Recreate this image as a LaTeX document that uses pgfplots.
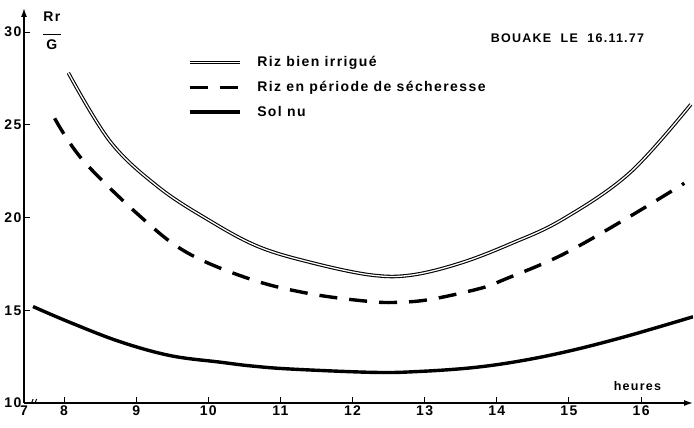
\documentclass[border=0pt]{standalone}
\usepackage{fontspec}
\usepackage{pgfplots}
\pgfplotsset{compat=1.18}
\usetikzlibrary{arrows.meta}
\setmainfont{Liberation Sans}
\newfontfamily\lbl{Liberation Sans}[LetterSpace=10]
\newcommand\lb{\lbl\bfseries\fontsize{14}{16}\selectfont}
\newcommand\lbt{\lbl\bfseries\fontsize{12.5}{14}\selectfont}

\begin{document}
\begin{tikzpicture}
\useasboundingbox (0,0) rectangle (694pt,428pt);
\begin{axis}[
  at={(24pt,25pt)}, anchor=south west,
  scale only axis, width=669pt, height=395pt,
  xmin=7.445, xmax=16.72, ymin=10, ymax=31.3,
  axis x line=bottom, axis y line=left,
  axis line style={line width=1.4pt},
  x axis line style={-{Latex[length=9pt,width=6pt]}},
  y axis line style={-{Latex[length=9pt,width=6pt]}},
  xtick={7.445,8,9,10,11,12,13,14,15,16},
  xticklabels={7,8,9,10,11,12,13,14,15,16},
  ytick={10,15,20,25,30},
  tick align=inside, major tick length=6pt,
  tick style={line width=1pt, black},
  ticklabel style={font=\lb},
  /pgf/number format/assume math mode=true,
  xticklabel style={yshift=1pt},
  yticklabel style={xshift=1pt},
  legend style={at={(0.24,0.885)}, anchor=north west, draw=none, fill=none,
    font=\lb, row sep=11pt, nodes={inner sep=1pt},
    /tikz/every odd column/.append style={column sep=15pt}},
  legend cell align=left,
  legend image code/.code={\draw[#1] (0pt,0pt) -- (50pt,0pt);},
]

% Riz bien irrigue
\addplot[black, line width=1.1pt, double=white, double distance=1.3pt, smooth, tension=0.6] coordinates {
  (8.06,27.8) (8.64,24.1) (9.30,21.67) (9.99,19.9) (10.69,18.44)
  (11.45,17.55) (12.26,16.9) (12.82,16.9) (13.5,17.55) (14.2,18.6)
  (14.91,19.9) (15.84,22.4) (16.69,26.1)
};
\addlegendentry{Riz bien irrigué}

% Riz en periode de secheresse
\addplot[black, line width=3.4pt, dash pattern=on 18pt off 12pt, smooth, tension=0.6] coordinates {
  (7.87,25.35) (8.26,23.1) (9.06,20.05) (9.71,18.1) (10.59,16.67)
  (11.4,15.9) (12.22,15.48) (12.64,15.43) (13.1,15.6) (13.79,16.2)
  (14.11,16.67) (14.91,18.0) (15.84,20.05) (16.6,21.85)
};
\addlegendentry{Riz en période de sécheresse}

% Sol nu
\addplot[black, line width=3.4pt, smooth, tension=0.6] coordinates {
  (7.57,15.2) (8.08,14.35) (8.78,13.3) (9.48,12.55) (10.17,12.2)
  (10.59,12.0) (11.15,11.83) (12.3,11.65) (12.92,11.7) (13.65,11.9)
  (14.3,12.25) (15.0,12.8) (15.8,13.6) (16.72,14.65)
};
\addlegendentry{Sol nu}

\node[font=\lb, align=center, inner sep=0pt] at (axis cs:7.83,30.05)
  {Rr\\[-3pt]\rule{18pt}{1.3pt}\\[-1pt]G};
\node[font=\lbt] at (axis cs:14.98,29.68) {BOUAKE\ \ LE\ \ 16.11.77};
\node[font=\lbt] at (axis cs:15.95,10.91) {heures};

% axis break marks
\draw[line width=1pt] ([xshift=-1.5pt,yshift=-4pt]axis cs:7.55,10) -- ++(3pt,8pt);
\draw[line width=1pt] ([xshift=2pt,yshift=-4pt]axis cs:7.55,10) -- ++(3pt,8pt);
\end{axis}
\end{tikzpicture}
\end{document}
